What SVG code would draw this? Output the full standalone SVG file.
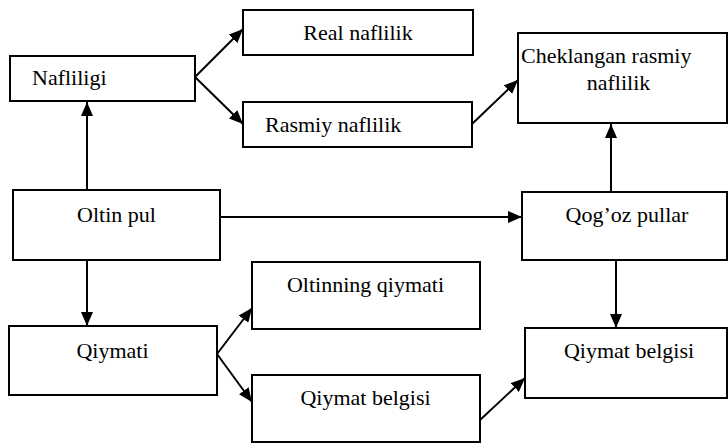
<svg xmlns="http://www.w3.org/2000/svg" width="728" height="444" viewBox="0 0 728 444">
<style>
.box{fill:#fff;stroke:#000;stroke-width:2}
.t{font-family:"Liberation Serif","Times New Roman",serif;font-size:22px;fill:#000}
.c{fill:none;stroke:#000;stroke-width:2}
</style>
<defs>
<marker id="ah" viewBox="0 0 14 12" refX="14" refY="6" markerWidth="14" markerHeight="12" markerUnits="userSpaceOnUse" orient="auto">
<path d="M0,0 L14,6 L0,12 z" fill="#000"/>
</marker>
</defs>
<rect width="728" height="444" fill="#fff"/>
<g id="connectors">
<line class="c" x1="87" y1="190" x2="87" y2="102" marker-end="url(#ah)"/>
<line class="c" x1="195" y1="77" x2="243" y2="29" marker-end="url(#ah)"/>
<line class="c" x1="195" y1="77" x2="243" y2="124" marker-end="url(#ah)"/>
<line class="c" x1="472" y1="124" x2="518" y2="80" marker-end="url(#ah)"/>
<line class="c" x1="220" y1="217" x2="522" y2="217" marker-end="url(#ah)"/>
<line class="c" x1="611" y1="192" x2="611" y2="124" marker-end="url(#ah)"/>
<line class="c" x1="87" y1="260" x2="87" y2="326" marker-end="url(#ah)"/>
<line class="c" x1="217" y1="354" x2="252" y2="308" marker-end="url(#ah)"/>
<line class="c" x1="217" y1="354" x2="252" y2="402" marker-end="url(#ah)"/>
<line class="c" x1="616" y1="260" x2="616" y2="328" marker-end="url(#ah)"/>
<line class="c" x1="480" y1="420" x2="525" y2="378" marker-end="url(#ah)"/>
</g>
<g id="nafliligi"><rect class="box" x="10" y="56" width="185" height="45"/><text class="t" x="32" y="85">Nafliligi</text></g>
<g id="real"><rect class="box" x="243" y="10" width="230" height="45"/><text class="t" x="358" y="40" text-anchor="middle">Real naflilik</text></g>
<g id="rasmiy"><rect class="box" x="243" y="102" width="229" height="45"/><text class="t" x="265" y="132">Rasmiy naflilik</text></g>
<g id="cheklangan"><rect class="box" x="518" y="33" width="209" height="90"/><text class="t" x="521" y="63">Cheklangan rasmiy</text><text class="t" x="618.5" y="90" text-anchor="middle">naflilik</text></g>
<g id="oltinpul"><rect class="box" x="13" y="190" width="207" height="70"/><text class="t" x="116.5" y="222" text-anchor="middle">Oltin pul</text></g>
<g id="qogoz"><rect class="box" x="522" y="192" width="205" height="68"/><text class="t" x="627" y="222" text-anchor="middle">Qog’oz pullar</text></g>
<g id="qiymati"><rect class="box" x="9" y="326" width="208" height="69"/><text class="t" x="112.5" y="358" text-anchor="middle">Qiymati</text></g>
<g id="oltinning"><rect class="box" x="252" y="262" width="228" height="67"/><text class="t" x="365.5" y="292" text-anchor="middle">Oltinning qiymati</text></g>
<g id="qiymatbelgisi1"><rect class="box" x="252" y="375" width="228" height="67"/><text class="t" x="365.5" y="405" text-anchor="middle">Qiymat belgisi</text></g>
<g id="qiymatbelgisi2"><rect class="box" x="525" y="328" width="202" height="70"/><text class="t" x="629" y="358" text-anchor="middle">Qiymat belgisi</text></g>
</svg>
